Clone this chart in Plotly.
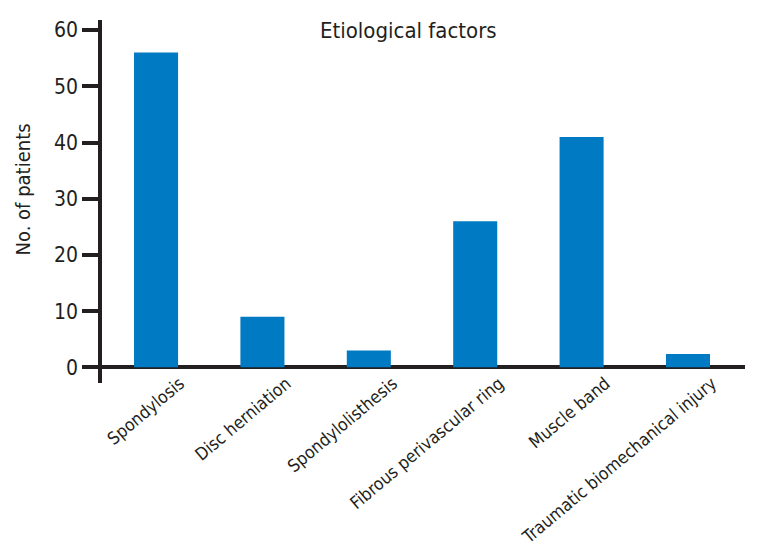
import plotly.graph_objects as go

categories = ["Spondylosis", "Disc herniation", "Spondylolisthesis",
              "Fibrous perivascular ring", "Muscle band", "Traumatic biomechanical injury"]
patients = [56, 9, 3, 26, 41, 2.4]
y_ticks = [0, 10, 20, 30, 40, 50, 60]

FONT = "Liberation Sans Narrow, Arial Narrow, DejaVu Sans Condensed, sans-serif"
INK = "#231F20"

fig = go.Figure(go.Bar(x=categories, y=patients, marker=dict(color="#007AC3", line=dict(width=0))))

# the page body has an 8px default margin, so the figure is drawn 8px smaller and shifted
fig.update_layout(
    width=751, height=538,
    margin=dict(l=94, r=14, t=12, b=163),
    paper_bgcolor="white", plot_bgcolor="white",
    bargap=0.586,
    showlegend=False,
    font=dict(family=FONT, color=INK),
)
fig.update_xaxes(
    range=[-0.508, 5.536], showline=False, showgrid=False, zeroline=False,
    automargin=False,
    ticks="", tickangle=-40, ticklabelshift=24, ticklabelstandoff=-14,
    tickfont=dict(size=17.5, family=FONT, color=INK),
)
fig.update_yaxes(
    range=[-2.78, 61.8], tickvals=y_ticks, showgrid=False, automargin=False,
    showline=True, linecolor=INK, linewidth=3.5,
    zeroline=True, zerolinecolor=INK, zerolinewidth=3.5,
    ticks="outside", ticklen=16, tickwidth=3.5, tickcolor=INK,
    tickfont=dict(size=21, family=FONT, color=INK),
)
fig.add_annotation(text="Etiological factors", xref="paper", yref="paper",
                   x=0.477, y=0.97, xanchor="center", yanchor="middle",
                   showarrow=False, font=dict(size=22, family=FONT, color=INK))
fig.add_annotation(text="No. of patients", xref="paper", yref="paper",
                   x=-0.123, y=0.533, xanchor="center", yanchor="middle", textangle=-90,
                   showarrow=False, font=dict(size=20, family=FONT, color=INK))

fig.write_html("out.html")
